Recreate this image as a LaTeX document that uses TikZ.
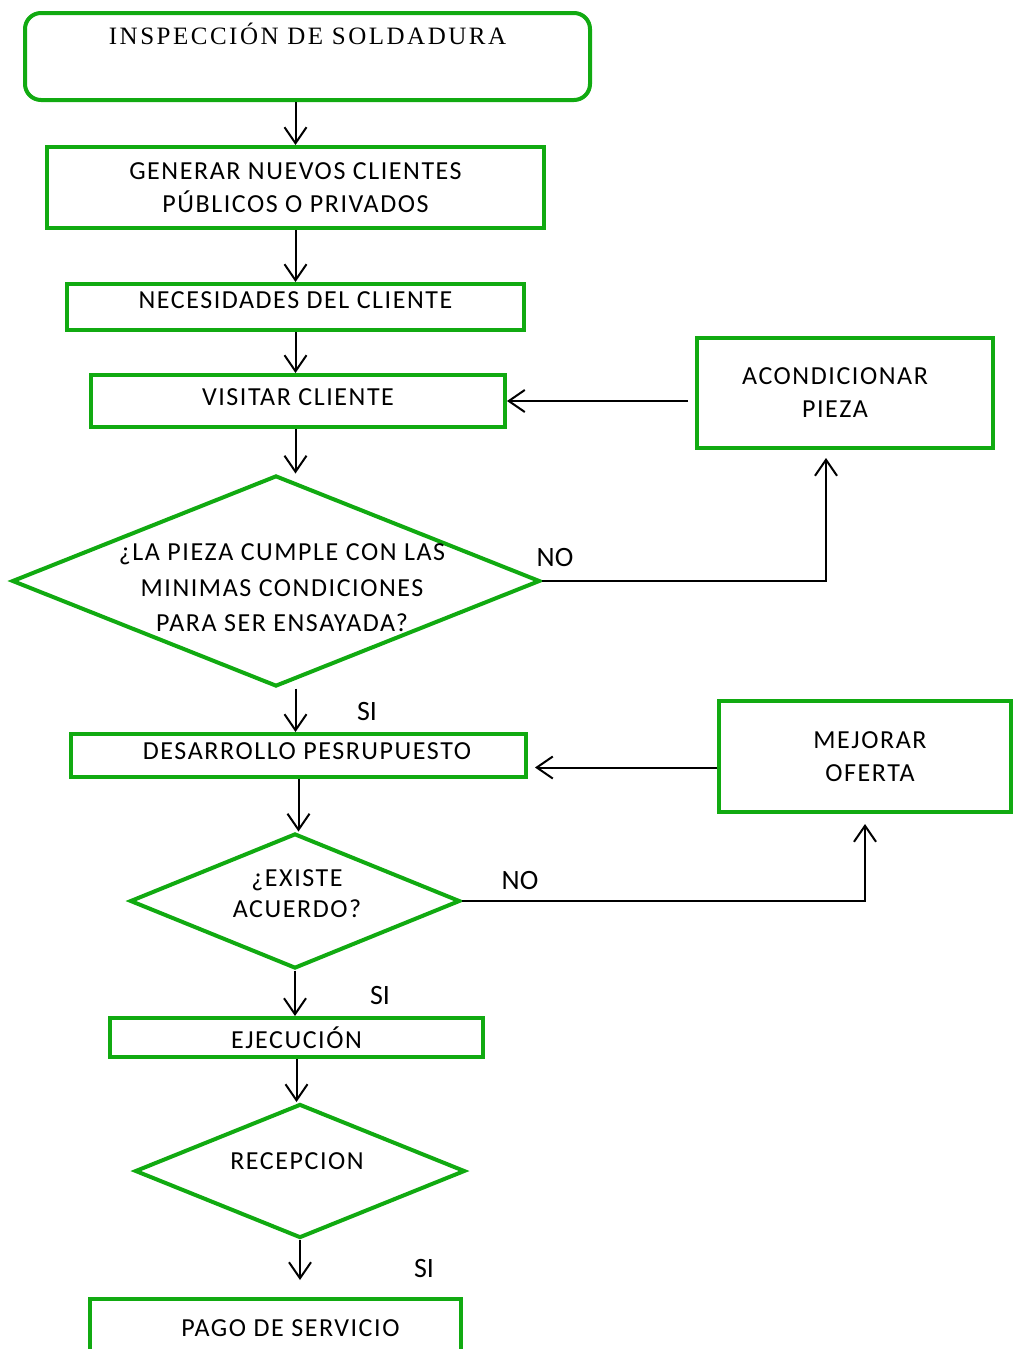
\documentclass[tikz,border=0pt]{standalone}
\usepackage{fontspec}
\setmainfont{Carlito}
\newfontfamily\titlefont[LetterSpace=10]{Liberation Serif}
\newfontfamily\boxfont[LetterSpace=6]{Carlito}
\usetikzlibrary{shapes.geometric,arrows.meta}
\definecolor{boxgreen}{RGB}{17,170,17}
\tikzset{stepbox/.style={draw=boxgreen, line width=4pt, rectangle, inner sep=0pt, align=center, font=\boxfont\fontsize{26}{33}\selectfont}}
\tikzset{decision/.style={draw=boxgreen, line width=4pt, diamond, inner sep=0pt}}
\tikzset{decisiontext/.style={inner sep=0pt, align=center, font=\boxfont\fontsize{26}{35.5}\selectfont}}
\tikzset{flow/.style={-{Straight Barb[length=16pt,width=22pt]}, line width=2pt}}
\tikzset{answer/.style={font=\fontsize{28}{32}\selectfont}}

\begin{document}
\begin{tikzpicture}[x=1pt,y=-1pt]
        \useasboundingbox (0,0) rectangle (1013,1349);
        \node [stepbox, rounded corners=16pt, minimum width=565pt, minimum height=87pt, font=\titlefont\fontsize{25}{30}\selectfont] (inspeccion) at (307.5,56.5) {INSPECCIÓN DE SOLDADURA\\[16pt]~};
        \node [stepbox, minimum width=497pt, minimum height=81pt] (clientes) at (295.5,187.5) {GENERAR NUEVOS CLIENTES\\PÚBLICOS O PRIVADOS};
        \node [stepbox, minimum width=457pt, minimum height=46pt, text depth=13pt] (necesidades) at (295.5,307) {NECESIDADES DEL CLIENTE};
        \node [stepbox, minimum width=414pt, minimum height=52pt, text depth=8pt] (visitar) at (298,401) {VISITAR CLIENTE};
        \node [decision, minimum width=528pt, minimum height=211pt] (pieza) at (276,581) {};
        \node [decisiontext] (piezatxt) at (282,588) {¿LA PIEZA CUMPLE CON LAS\\MINIMAS CONDICIONES\\PARA SER ENSAYADA?};
        \node [stepbox, minimum width=296pt, minimum height=110pt] (acondicionar) at (845,393) {ACONDICIONAR\hspace*{20pt}\\PIEZA\hspace*{20pt}};
        \node [stepbox, minimum width=455pt, minimum height=43pt, text depth=8pt] (presupuesto) at (298.5,755.5) {\hspace*{17pt}DESARROLLO PESRUPUESTO};
        \node [stepbox, minimum width=292pt, minimum height=111pt] (oferta) at (865,756.5) {\hspace*{10pt}MEJORAR\\\hspace*{10pt}OFERTA};
        \node [decision, minimum width=330pt, minimum height=135pt] (acuerdo) at (295,901) {};
        \node [decisiontext, font=\boxfont\fontsize{26}{31}\selectfont] (acuerdotxt) at (297,894) {¿EXISTE\\ACUERDO?};
        \node [stepbox, minimum width=373pt, minimum height=39pt] (ejecucion) at (296.5,1037.5) {EJECUCIÓN};
        \node [decision, minimum width=330pt, minimum height=134pt] (recepcion) at (300,1171) {};
        \node [decisiontext] (recepciontxt) at (297,1161) {RECEPCION};
        \node [stepbox, minimum width=371pt, minimum height=110pt] (pago) at (275.5,1354) {\hspace*{30pt}PAGO DE SERVICIO\\[19pt]~};
        \node [answer] (no1) at (555,558) {NO};
        \node [answer] (si1) at (367,712) {SI};
        \node [answer] (no2) at (520,880) {NO};
        \node [answer] (si2) at (380,995) {SI};
        \node [answer] (si3) at (424,1268) {SI};
        \draw [flow] (inspeccion.south -| clientes.north) -- (clientes.north);
        \draw [flow] (clientes.south) -- (necesidades.north);
        \draw [flow] (necesidades.south) -- (necesidades.south |- visitar.north);
        \draw [flow] (necesidades.south |- visitar.south) -- (necesidades.south |- pieza.north);
        \draw [flow] (necesidades.south |- pieza.south) -- (necesidades.south |- presupuesto.north);
        \draw [flow, shorten >=8pt] (pieza.east) -| ([xshift=-19pt]acondicionar.south);
        \draw [flow, shorten <=7pt] (acondicionar.west |- visitar.east) -- (visitar.east);
        \draw [flow, shorten >=7pt] ([yshift=-11pt]oferta.west) -- ([yshift=-11pt]oferta.west -| presupuesto.east);
        \draw [flow, shorten >=10pt] (acuerdo.east) -| (oferta.south);
        \draw [flow] (presupuesto.south) -- (presupuesto.south |- acuerdo.north);
        \draw [flow] (acuerdo.south) -- (acuerdo.south |- ejecucion.north);
        \draw [flow] (ejecucion.south) -- (ejecucion.south |- recepcion.north);
        \draw [flow, shorten >=17pt] (recepcion.south) -- (recepcion.south |- pago.north);
    \end{tikzpicture}
\end{document}
